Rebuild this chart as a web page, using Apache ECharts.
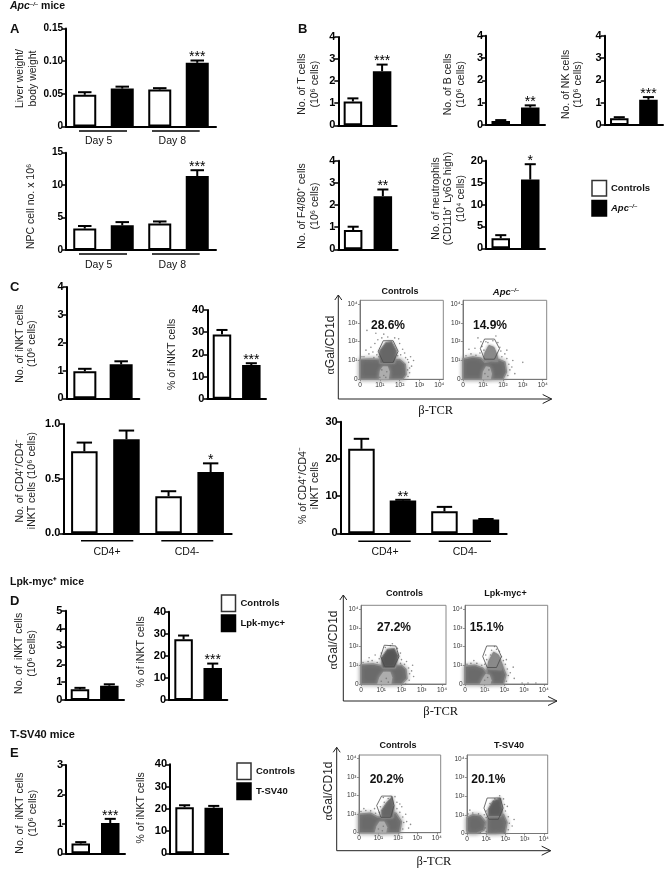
<!DOCTYPE html>
<html><head><meta charset="utf-8">
<style>html,body{margin:0;padding:0;background:#fff}#c{width:666px;height:870px}</style>
<script src="https://cdn.jsdelivr.net/npm/echarts@6/dist/echarts.min.js"></script>
</head><body><div id="c"></div>
<script>
// ---------- bar data (mean, top of error bar, significance) ----------
const dayCategories = ['Controls Day 5','Apc Day 5','Controls Day 8','Apc Day 8'];
const cdCategories = ['Controls CD4+','Tumor CD4+','Controls CD4-','Tumor CD4-'];
const twoCategories = ['Controls','Tumor'];

const liverMeans = [0.0485,0.058,0.0566,0.0974];
const liverTops = [0.0525,0.061,0.0587,0.101];
const liverStars = ['','','','***'];
const liverTicks = ['0','0.05','0.10','0.15'];
const npcMeans = [3.3,3.8,4.1,11.4];
const npcTops = [3.7,4.3,4.4,12.3];
const npcStars = ['','','','***'];

const tMeans = [1.08,2.45];  const tTops = [1.22,2.75];  const tStars = ['','***'];
const bMeans = [0.18,0.78];  const bTops = [0.22,0.88];  const bStars = ['','**'];
const nkMeans = [0.3,1.13];  const nkTops = [0.35,1.25]; const nkStars = ['','***'];
const f480Means = [0.87,2.4]; const f480Tops = [1.02,2.7]; const f480Stars = ['','**'];
const neutMeans = [2.3,15.7]; const neutTops = [3.0,19.2]; const neutStars = ['','*'];

const cCountMeans = [0.97,1.22]; const cCountTops = [1.06,1.33]; const cCountStars = ['',''];
const cPctMeans = [29,15.2];     const cPctTops = [31,16];       const cPctStars = ['','***'];
const cdCountMeans = [0.75,0.86,0.34,0.56]; const cdCountTops = [0.83,0.94,0.385,0.64]; const cdCountStars = ['','','','*'];
const cdCountTicks = ['0.0','0.5','1.0'];
const cdPctMeans = [22.7,8.8,5.9,3.7]; const cdPctTops = [25.4,9.0,7.1,3.85]; const cdPctStars = ['','**','',''];

const dCountMeans = [0.6,0.8];  const dCountTops = [0.68,0.88]; const dCountStars = ['',''];
const dPctMeans = [27.5,14.5];  const dPctTops = [29.2,16.5];   const dPctStars = ['','***'];
const eCountMeans = [0.33,1.03]; const eCountTops = [0.38,1.17]; const eCountStars = ['','***'];
const ePctMeans = [20.7,20.5];   const ePctTops = [21.6,21.3];   const ePctStars = ['',''];

// ---------- flow plot data, in decades ----------
const flowTicks = ['0','10¹','10²','10³','10⁴'];

const c1Cloud = [[0,0],[0,1.05],[0.6,1.08],[1.0,1.05],[1.4,1.0],[2.0,1.05],[2.28,0.8],[2.32,0.25],[2.15,0]];
const c1Core = [[1.0,0.85],[0.98,1.5],[1.3,1.95],[1.6,2.0],[1.85,1.5],[1.75,0.85]];
const c1Hole = [[0.95,0],[1.0,0.45],[1.15,0.7],[1.4,0.7],[1.5,0.4],[1.45,0]];
const c1Gate = [[1.17,2.05],[1.67,2.05],[1.92,1.49],[1.67,0.9],[1.17,0.9],[0.92,1.49]];
const c1Dots = [[0.2,1.2],[0.45,1.35],[0.7,1.15],[0.85,1.3],[0.55,1.7],[0.3,1.55],[0.75,1.9],[0.9,2.1],[1.1,2.2],[1.4,2.25],[1.75,2.2],[2.0,1.9],[2.15,1.6],[2.05,1.3],[2.3,1.15],[2.45,0.9],[2.5,0.6],[2.5,0.35],[2.42,0.15],[2.6,0.7],[2.7,1.0],[0.1,1.2],[1.95,2.15],[0.65,1.45],[2.25,1.4],[1.2,2.4],[0.35,2.6],[0.8,2.45],[2.4,0.5],[2.55,1.2],[2.4,1.05],[0.95,1.2],[1.9,1.25],[1.0,0.1],[1.2,0.2],[1.35,0.4],[1.1,0.5],[1.3,0.1]];

const c2Cloud = [[0,0],[0,1.08],[0.5,1.18],[0.9,1.12],[1.1,0.9],[1.3,0.95],[1.5,1.05],[1.8,1.05],[2.1,0.92],[2.18,0.4],[2.0,0]];
const c2Core = [[1.05,1.0],[1.1,1.4],[1.3,1.8],[1.55,1.7],[1.7,1.3],[1.75,0.95]];
const c2Hole = [[0.95,0],[1.0,0.4],[1.15,0.7],[1.35,0.65],[1.45,0.3],[1.4,0]];
const c2Gate = [[1.08,2.14],[1.58,2.14],[1.83,1.63],[1.58,1.07],[1.08,1.07],[0.87,1.63]];
const c2Dots = [[0.15,1.25],[0.4,1.35],[0.65,1.28],[0.85,1.4],[0.6,1.65],[0.95,1.75],[0.9,2.0],[1.15,2.0],[1.25,1.95],[1.5,2.05],[1.75,1.95],[1.9,1.5],[1.95,1.2],[2.2,1.1],[2.3,0.8],[2.35,0.5],[2.25,0.2],[2.45,0.65],[2.6,0.3],[3.0,0.9],[0.3,1.6],[1.05,1.55],[1.85,1.7],[2.1,1.35],[0.75,2.2],[1.65,2.3],[2.5,1.0],[2.2,1.55],[1.1,0.3],[1.25,0.15],[1.3,0.5]];

const d1Cloud = [[0,0],[0,1.03],[0.6,1.07],[1.0,0.98],[1.3,0.95],[2.0,1.0],[2.22,0.78],[2.27,0.3],[2.0,0]];
const d1Core = [[1.05,0.85],[1.0,1.4],[1.3,1.85],[1.65,1.9],[1.85,1.5],[1.7,0.85]];
const d1Hole = [[0.8,0],[0.9,0.35],[1.1,0.65],[1.45,0.65],[1.55,0.35],[1.5,0]];
const d1Gate = [[1.15,2.07],[1.72,2.03],[1.88,1.47],[1.63,0.92],[1.18,0.92],[0.97,1.47]];
const d1Dots = [[0.1,1.15],[0.35,1.2],[0.55,1.25],[0.8,1.15],[0.9,1.35],[1.0,1.65],[1.2,1.95],[1.45,2.05],[1.8,1.9],[1.95,1.65],[2.0,1.3],[2.15,1.05],[2.35,0.85],[2.4,0.55],[2.38,0.2],[2.5,0.7],[2.2,0.0],[2.6,0.4],[0.4,1.4],[0.7,1.55],[1.95,1.1],[2.25,1.2],[1.55,2.15],[2.55,1.0],[1.0,0.15],[1.25,0.3],[1.35,0.1]];

const d2Cloud = [[0,0],[0,0.95],[0.5,1.0],[0.9,0.85],[1.1,0.6],[1.15,0.85],[1.4,1.0],[1.9,0.95],[2.08,0.5],[1.95,0]];
const d2Core = [[1.15,0.8],[1.2,1.2],[1.45,1.7],[1.7,1.55],[1.9,1.0],[1.85,0.75]];
const d2Hole = [[0.75,0],[0.9,0.3],[1.05,0.55],[1.25,0.5],[1.35,0.2],[1.3,0]];
const d2Gate = [[1.1,2.03],[1.6,2.03],[1.85,1.47],[1.6,0.88],[1.13,0.88],[0.9,1.47]];
const d2Dots = [[0.1,1.05],[0.3,1.1],[0.6,1.1],[0.85,1.0],[1.0,1.05],[1.1,1.3],[1.3,1.55],[1.35,1.8],[1.6,1.85],[1.75,1.75],[1.85,1.45],[1.95,1.25],[2.05,1.05],[2.15,0.8],[2.2,0.45],[2.1,0.15],[2.3,0.6],[2.45,0.9],[0.45,1.25],[1.05,1.55],[1.5,2.0],[2.1,1.3],[2.5,0.3],[3.6,0.05],[2.9,0.05],[3.2,0.05],[1.0,0.2],[1.15,0.35]];

const e1Cloud = [[0,0],[0,1.0],[0.6,1.05],[0.95,0.85],[1.2,0.85],[1.5,1.1],[1.9,1.05],[2.18,0.6],[2.08,0]];
const e1Core = [[1.15,0.8],[1.15,1.2],[1.4,1.6],[1.7,1.95],[1.8,1.4],[1.75,0.8]];
const e1Hole = [[0.8,0],[0.9,0.35],[1.05,0.6],[1.3,0.6],[1.45,0.3],[1.4,0]];
const e1Gate = [[1.16,1.98],[1.68,1.98],[1.8,1.47],[1.63,0.83],[1.13,0.83],[0.91,1.47]];
const e1Dots = [[0.1,1.15],[0.35,1.2],[0.6,1.18],[0.85,1.05],[1.05,1.1],[1.1,1.4],[1.3,1.65],[1.5,1.85],[1.85,1.95],[1.95,1.65],[1.95,1.3],[2.1,1.1],[2.25,0.85],[2.3,0.55],[2.25,0.2],[2.45,0.6],[2.55,0.25],[0.25,1.3],[0.8,1.3],[2.2,1.4],[1.25,1.9],[2.4,1.0],[2.1,1.55],[2.65,0.45],[1.0,0.2],[1.2,0.1],[1.25,0.35]];

const e2LeftCloud = [[0,0.15],[0,0.85],[0.3,1.0],[0.7,0.95],[0.98,0.6],[0.88,0.18],[0.5,0.02],[0.1,0.02]];
const e2Cloud = [[1.05,0],[1.05,0.7],[1.2,1.02],[1.9,1.02],[2.08,0.6],[1.98,0.03],[1.5,0]];
const e2Core = [[1.1,0.9],[1.1,1.3],[1.35,1.75],[1.75,1.9],[1.85,1.3],[1.8,0.9]];
const e2Gate = [[1.05,1.9],[1.72,1.9],[1.88,1.36],[1.63,0.76],[1.13,0.76],[0.88,1.36]];
const e2Dots = [[0.05,1.05],[0.3,1.1],[0.6,1.05],[0.9,1.0],[1.0,0.85],[0.95,0.3],[1.0,0.1],[0.7,0.05],[1.0,1.2],[1.2,1.6],[1.45,1.85],[1.9,1.85],[1.95,1.55],[2.0,1.2],[2.15,0.9],[2.2,0.55],[2.15,0.2],[2.35,0.4],[2.45,0.75],[0.15,1.25],[1.95,0.02],[2.1,1.45],[1.7,2.02],[1.3,0.1]];

// ---------- layout ----------
const SANS = '"Liberation Sans",Arial,sans-serif';

const panels = [
 {l:66,t:28.5,r:216,b:126.5,max:0.15,step:0.05,cats:dayCategories,m:liverMeans,e:liverTops,s:liverStars,w:25,ticks:liverTicks,small:true,name:'Liver weight/\nbody weight',gap:27,dy:1},
 {l:66,t:152.7,r:216,b:250,max:15,step:5,cats:dayCategories,m:npcMeans,e:npcTops,s:npcStars,w:25,small:true,name:'NPC cell no. x 10⁶',gap:29,dy:5},
 {l:338.3,t:37,r:396.7,b:125.3,max:4,step:1,cats:twoCategories,m:tMeans,e:tTops,s:tStars,w:20.5,name:'No. of T cells\n(10⁶ cells)',gap:17,dy:3},
 {l:486,t:35.7,r:545,b:125,max:4,step:1,cats:twoCategories,m:bMeans,e:bTops,s:bStars,w:20.5,name:'No. of B cells\n(10⁶ cells)',gap:19,dy:4},
 {l:604.7,t:35.7,r:663,b:125,max:4,step:1,cats:twoCategories,m:nkMeans,e:nkTops,s:nkStars,w:20.5,name:'No. of NK cells\n(10⁶ cells)',gap:20,dy:4},
 {l:338.3,t:160.7,r:397.7,b:249.3,max:4,step:1,cats:twoCategories,m:f480Means,e:f480Tops,s:f480Stars,w:20.5,name:'No. of F4/80⁺ cells\n(10⁶ cells)',gap:17,dy:1},
 {l:486,t:160.7,r:545,b:248.3,max:20,step:5,cats:twoCategories,m:neutMeans,e:neutTops,s:neutStars,w:20.5,name:'No. of neutrophils\n(CD11b⁺ Ly6G high)\n(10⁴ cells)',gap:19,dy:-6},
 {l:66.7,t:287,r:139.3,b:398.3,max:4,step:1,cats:twoCategories,m:cCountMeans,e:cCountTops,s:cCountStars,w:25,name:'No. of iNKT cells\n(10⁶ cells)',gap:28,dy:1},
 {l:207.3,t:310,r:266,b:398.7,max:40,step:10,cats:twoCategories,m:cPctMeans,e:cPctTops,s:cPctStars,w:20.5,name:'% of iNKT cells',gap:29,dy:0},
 {l:63.3,t:424,r:231.7,b:533.3,max:1,step:0.5,cats:cdCategories,m:cdCountMeans,e:cdCountTops,s:cdCountStars,w:28.5,ticks:cdCountTicks,name:'No. of CD4⁺/CD4⁻\niNKT cells (10⁶ cells)',gap:24.5,dy:2},
 {l:340.7,t:421.7,r:506.7,b:533.3,max:30,step:10,cats:cdCategories,m:cdPctMeans,e:cdPctTops,s:cdPctStars,w:28.5,name:'% of CD4⁺/CD4⁻\niNKT cells',gap:18,dy:8},
 {l:65.3,t:610.7,r:124,b:700,max:5,step:1,cats:twoCategories,m:dCountMeans,e:dCountTops,s:dCountStars,w:20.5,name:'No. of  iNKT cells\n(10⁶ cells)',gap:27,dy:-2},
 {l:169,t:611.7,r:227.3,b:700,max:40,step:10,cats:twoCategories,m:dPctMeans,e:dPctTops,s:dPctStars,w:20.5,name:'% of iNKT cells',gap:22,dy:-4},
 {l:66,t:765,r:125,b:853.3,max:3,step:1,cats:twoCategories,m:eCountMeans,e:eCountTops,s:eCountStars,w:20.5,name:'No. of  iNKT cells\n(10⁶ cells)',gap:27,dy:4},
 {l:170,t:764.3,r:228.3,b:853.3,max:40,step:10,cats:twoCategories,m:ePctMeans,e:ePctTops,s:ePctStars,w:20.5,name:'% of iNKT cells',gap:23,dy:-1}
];

const flows = [
 {l:360,t:300.3,r:443.3,b:379.3,clouds:[c1Cloud],core:c1Core,hole:c1Hole,gate:c1Gate,dots:c1Dots},
 {l:463,t:300.3,r:546.7,b:379.3,clouds:[c2Cloud],core:c2Core,hole:c2Hole,gate:c2Gate,dots:c2Dots,coreColor:'#8a8a8a'},
 {l:361,t:605.3,r:446,b:684,clouds:[d1Cloud],core:d1Core,hole:d1Hole,gate:d1Gate,dots:d1Dots,coreColor:'#555'},
 {l:465,t:605.3,r:547.7,b:684,clouds:[d2Cloud],core:d2Core,hole:d2Hole,gate:d2Gate,dots:d2Dots,coreColor:'#8a8a8a'},
 {l:359,t:755,r:440.7,b:832.7,clouds:[e1Cloud],core:e1Core,hole:e1Hole,gate:e1Gate,dots:e1Dots},
 {l:467,t:755,r:547.7,b:833.5,clouds:[e2LeftCloud,e2Cloud],core:e2Core,gate:e2Gate,dots:e2Dots,coreColor:'#5c5c5c'}
];

const grid=[],xAxis=[],yAxis=[],series=[];
function addGrid(l,t,r,b,extra){grid.push(Object.assign({left:l,top:t,width:r-l,height:b-t},extra||{}));return grid.length-1;}

panels.forEach(p=>{
  const i=addGrid(p.l,p.t,p.r,p.b);
  xAxis.push({gridIndex:i,type:'category',data:p.cats,axisTick:{show:false},axisLabel:{show:false},
    axisLine:{lineStyle:{color:'#000',width:2}}});
  yAxis.push({gridIndex:i,type:'value',min:0,max:p.max,interval:p.step,splitLine:{show:false},
    name:p.name,nameLocation:'middle',nameGap:p.gap,nameRotate:90,
    nameTextStyle:{color:'#222',fontFamily:SANS,fontSize:10.5,lineHeight:12.5,
      padding:p.dy>0?[0,2*p.dy,0,0]:[0,0,0,-2*p.dy]},
    axisLine:{show:true,lineStyle:{color:'#000',width:2}},
    axisTick:{show:true,length:4,lineStyle:{color:'#000',width:1.5}},
    axisLabel:{margin:3,color:'#000',fontWeight:'bold',
      fontFamily:SANS,fontSize:p.small?10:11,
      formatter:p.ticks?((v,idx)=>p.ticks[idx]):undefined}});
  const border=2;
  series.push({type:'bar',xAxisIndex:i,yAxisIndex:i,barWidth:p.w-border,silent:true,
    data:p.m.map((v,k)=>({value:v,itemStyle:{color:k%2?'#000':'#fff',borderColor:'#000',borderWidth:border}}))});
  const cap=p.w*0.27;
  series.push({type:'custom',xAxisIndex:i,yAxisIndex:i,silent:true,z:5,clip:false,
    data:p.m.map((v,k)=>[k,v,p.e[k]]),encode:{x:0,y:[1,2]},
    renderItem:(params,api)=>{
      const a=api.coord([api.value(0),api.value(1)]),b=api.coord([api.value(0),api.value(2)]);
      const kids=[
        {type:'line',shape:{x1:a[0],y1:a[1],x2:b[0],y2:b[1]},style:{stroke:'#000',lineWidth:2}},
        {type:'line',shape:{x1:b[0]-cap,y1:b[1],x2:b[0]+cap,y2:b[1]},style:{stroke:'#000',lineWidth:2}}];
      const st=p.s[params.dataIndex];
      if(st) kids.push({type:'text',style:{text:st,x:b[0],y:b[1]-3,fill:'#000',font:'14px '+SANS,textAlign:'center',textVerticalAlign:'middle'}});
      return {type:'group',children:kids};
    }});
});

function polyRender(points,style){
  return (params,api)=>({type:'polygon',shape:{points:points.map(q=>api.coord(q))},style});
}
flows.forEach(f=>{
  const i=addGrid(f.l,f.t,f.r,f.b,{show:true,borderColor:'#888',borderWidth:1,backgroundColor:'#fff'});
  const ax=()=>({gridIndex:i,type:'value',min:0,max:4.2,interval:1,splitLine:{show:false},
    axisLine:{show:true,lineStyle:{color:'#777',width:1}},
    axisTick:{show:true,length:2,lineStyle:{color:'#777',width:0.8}},
    axisLabel:{margin:2.5,color:'#333',fontFamily:SANS,fontSize:6.5,showMaxLabel:false,
      formatter:v=>Number.isInteger(v)?flowTicks[v]:''}});
  xAxis.push(ax());yAxis.push(ax());
  const base={type:'custom',xAxisIndex:i,yAxisIndex:i,silent:true,data:[[0,0]],encode:{x:0,y:1}};
  f.clouds.forEach(c=>series.push(Object.assign({},base,{z:2,renderItem:polyRender(c,{fill:'#6a6a6a',stroke:'#8c8c8c',lineWidth:1.5,shadowBlur:4,shadowColor:'#888'})})));
  if(f.hole) series.push(Object.assign({},base,{z:3,renderItem:polyRender(f.hole,{fill:'#adadad',shadowBlur:4,shadowColor:'#aaa'})}));
  series.push(Object.assign({},base,{z:3,renderItem:polyRender(f.core,{fill:f.coreColor||'#666',stroke:'#888',lineWidth:1,shadowBlur:3,shadowColor:'#888'})}));
  series.push({type:'scatter',xAxisIndex:i,yAxisIndex:i,silent:true,z:3,symbolSize:1.6,data:f.dots,itemStyle:{color:'#707070'}});
  series.push(Object.assign({},base,{z:4,renderItem:polyRender(f.gate,{fill:'none',stroke:'#4a4a4a',lineWidth:0.8})}));
});

// ---------- text and annotation ----------
const g=[];
function txt(x,y,text,font,o){g.push(Object.assign({type:'text',x,y,silent:true,style:{text,font,fill:'#111',textAlign:(o&&o.align)||'left',textVerticalAlign:'middle',rich:o&&o.rich}},o&&o.rotation!==undefined?{rotation:o.rotation}:{}));}
function line(pts,w,c){g.push({type:'polyline',silent:true,shape:{points:pts},style:{stroke:c||'#000',lineWidth:w,fill:'none'}});}
function rect(x,y,w,h,fill){g.push({type:'rect',silent:true,shape:{x,y,width:w,height:h},style:{fill,stroke:fill==='#000'?'#000':'#333',lineWidth:1.5}});}
const BOLD='bold 10.5px '+SANS;
const supRich={i:{font:'italic bold 10.5px '+SANS,fill:'#111'},s:{font:'italic bold 6px '+SANS,fill:'#111',verticalAlign:'top',lineHeight:10},b:{font:BOLD,fill:'#111'},
  t:{font:'italic bold 9.5px '+SANS,fill:'#111'}};
txt(10,6.5,'{i|Apc}{s|–/–}{b| mice}',BOLD,{rich:supRich});
txt(10,582,'Lpk-myc⁺ mice',BOLD);
txt(10,735,'T-SV40 mice','bold 11px '+SANS);
[['A',10,29],['B',298,29],['C',10,287],['D',10,601],['E',10,753]].forEach(a=>txt(a[1],a[2],a[0],'900 13px '+SANS));

// group brackets
[[79,127,131,141,98.7,'Day 5'],[152,199.7,131,141,172.3,'Day 8'],[79,127,254,264.7,98.7,'Day 5'],[152,199.7,254,264.7,172.3,'Day 8'],
 [81,133.3,540.7,552.5,107,'CD4+'],[161.3,213.3,540.7,552.5,187,'CD4-'],[358.3,410.7,541.3,552.5,385,'CD4+'],[438.7,491,541.3,552.5,465,'CD4-']].forEach(a=>{
  line([[a[0],a[2]],[a[1],a[2]]],1.6);
  txt(a[4],a[3],a[5],'10.5px '+SANS,{align:'center'});
});

// legends
function legend(x,y1,y2,w,h,tx,a,b,bRich){
  rect(x,y1,w,h,'#fff');rect(x,y2,w,h,'#000');
  txt(tx,y1+h/2,a,'bold 9.5px '+SANS);
  txt(tx,y2+h/2,b,'bold 9.5px '+SANS,bRich?{rich:supRich}:undefined);
}
legend(592,180.5,200.5,14.5,15.5,611,'Controls','{t|Apc}{s|–/–}',true);
legend(221.5,595,615,14,16.5,240.5,'Controls','Lpk-myc+');
legend(237,763,783,14,16.5,256,'Controls','T-SV40');

// flow frame text
function frame(x,yTop,yBot,xEnd,yLabelX,yLabelY,betaX,betaY){
  line([[x,yTop],[x,yBot],[xEnd,yBot]],1,'#222');
  line([[x-3.5,yTop+5],[x,yTop],[x+3.5,yTop+5]],1,'#222');
  line([[xEnd-9,yBot-4.5],[xEnd,yBot],[xEnd-9,yBot+4.5]],1,'#222');
  g.push({type:'text',x:yLabelX,y:yLabelY,rotation:Math.PI/2,silent:true,style:{text:'{g|α}Gal/CD1d',font:'12px '+SANS,fill:'#222',textAlign:'center',textVerticalAlign:'middle',rich:{g:{font:'12px "Liberation Serif",serif',fill:'#222'}}}});
  txt(betaX,betaY,'β-TCR','12.5px "Liberation Serif",serif',{align:'center'});
}
frame(338.3,295,399,551.7,331,345,435.7,411);
frame(343.3,595,701,557,334,640,440.7,712);
frame(336.7,747.3,850.7,550.7,329,791,434,862);

const TITLE='bold 9px '+SANS, PCT='bold 12px '+SANS;
txt(400,292,'Controls',TITLE,{align:'center'});
txt(506,292,'{t|Apc}{s|–/–}',TITLE,{align:'center',rich:supRich});
txt(388,326,'28.6%',PCT,{align:'center'});txt(490,326,'14.9%',PCT,{align:'center'});
txt(404.5,593.5,'Controls',TITLE,{align:'center'});txt(505.5,593.5,'Lpk-myc+',TITLE,{align:'center'});
txt(394,628,'27.2%',PCT,{align:'center'});txt(486.7,628,'15.1%',PCT,{align:'center'});
txt(398,746,'Controls',TITLE,{align:'center'});txt(509,746,'T-SV40',TITLE,{align:'center'});
txt(386.7,780,'20.2%',PCT,{align:'center'});txt(488.3,780,'20.1%',PCT,{align:'center'});

const chart=echarts.init(document.getElementById('c'),null,{renderer:'canvas'});
chart.setOption({animation:false,backgroundColor:'#fff',grid,xAxis,yAxis,series,graphic:g});
</script></body></html>
